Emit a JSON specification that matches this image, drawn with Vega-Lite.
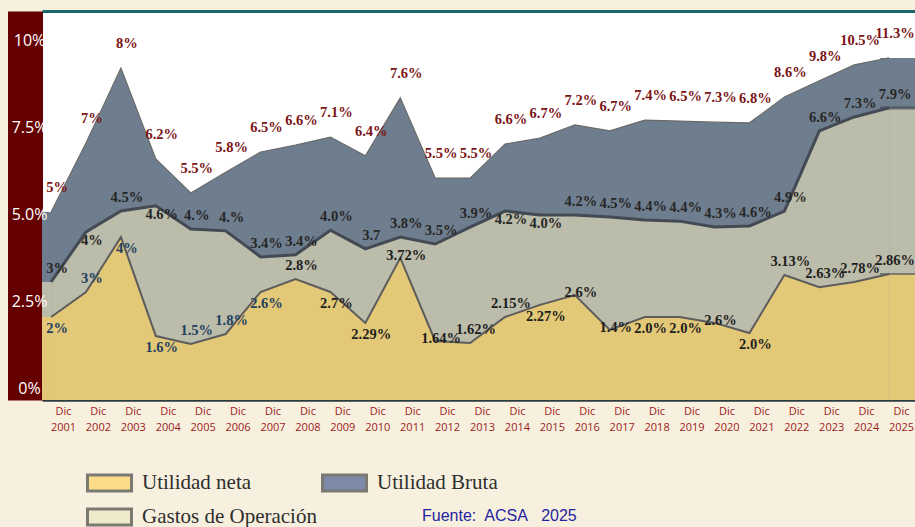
{
  "$schema": "https://vega.github.io/schema/vega-lite/v6.json",
  "width": 873,
  "height": 389,
  "autosize": {"type": "none"},
  "padding": {"left": 42, "top": 11, "right": 0, "bottom": 127},
  "background": "#f7f0de",
  "config": {"view": {"fill": "white", "stroke": null}},
  "title": {"text": "Fuente:\u00a0 ACSA\u00a0\u00a0 2025", "orient": "bottom", "anchor": "start", "frame": "group", "dx": 380, "offset": -20, "baseline": "top", "font": "Liberation Sans", "fontSize": 16, "fontWeight": "normal", "color": "#2424a0"},
  "datasets": {
    "d": [
      {"year": 2001, "serie": "Utilidad Bruta", "value": 5.41, "label": "5%"},
      {"year": 2002, "serie": "Utilidad Bruta", "value": 7.40, "label": "7%"},
      {"year": 2003, "serie": "Utilidad Bruta", "value": 9.56, "label": "8%"},
      {"year": 2004, "serie": "Utilidad Bruta", "value": 6.94, "label": "6.2%"},
      {"year": 2005, "serie": "Utilidad Bruta", "value": 5.96, "label": "5.5%"},
      {"year": 2006, "serie": "Utilidad Bruta", "value": 6.56, "label": "5.8%"},
      {"year": 2007, "serie": "Utilidad Bruta", "value": 7.14, "label": "6.5%"},
      {"year": 2008, "serie": "Utilidad Bruta", "value": 7.34, "label": "6.6%"},
      {"year": 2009, "serie": "Utilidad Bruta", "value": 7.57, "label": "7.1%"},
      {"year": 2010, "serie": "Utilidad Bruta", "value": 7.03, "label": "6.4%"},
      {"year": 2011, "serie": "Utilidad Bruta", "value": 8.70, "label": "7.6%"},
      {"year": 2012, "serie": "Utilidad Bruta", "value": 6.39, "label": "5.5%"},
      {"year": 2013, "serie": "Utilidad Bruta", "value": 6.39, "label": "5.5%"},
      {"year": 2014, "serie": "Utilidad Bruta", "value": 7.37, "label": "6.6%"},
      {"year": 2015, "serie": "Utilidad Bruta", "value": 7.54, "label": "6.7%"},
      {"year": 2016, "serie": "Utilidad Bruta", "value": 7.92, "label": "7.2%"},
      {"year": 2017, "serie": "Utilidad Bruta", "value": 7.75, "label": "6.7%"},
      {"year": 2018, "serie": "Utilidad Bruta", "value": 8.06, "label": "7.4%"},
      {"year": 2019, "serie": "Utilidad Bruta", "value": 8.03, "label": "6.5%"},
      {"year": 2020, "serie": "Utilidad Bruta", "value": 8.00, "label": "7.3%"},
      {"year": 2021, "serie": "Utilidad Bruta", "value": 7.98, "label": "6.8%"},
      {"year": 2022, "serie": "Utilidad Bruta", "value": 8.72, "label": "8.6%"},
      {"year": 2023, "serie": "Utilidad Bruta", "value": 9.19, "label": "9.8%"},
      {"year": 2024, "serie": "Utilidad Bruta", "value": 9.65, "label": "10.5%"},
      {"year": 2025, "serie": "Utilidad Bruta", "value": 9.85, "label": "11.3%"},
      {"year": 2001, "serie": "Gastos de Operación", "value": 3.40, "label": "3%"},
      {"year": 2002, "serie": "Gastos de Operación", "value": 4.84, "label": "4%"},
      {"year": 2003, "serie": "Gastos de Operación", "value": 5.44, "label": "4.5%"},
      {"year": 2004, "serie": "Gastos de Operación", "value": 5.59, "label": "4.6%"},
      {"year": 2005, "serie": "Gastos de Operación", "value": 4.92, "label": "4.%"},
      {"year": 2006, "serie": "Gastos de Operación", "value": 4.87, "label": "4.%"},
      {"year": 2007, "serie": "Gastos de Operación", "value": 4.12, "label": "3.4%"},
      {"year": 2008, "serie": "Gastos de Operación", "value": 4.18, "label": "3.4%"},
      {"year": 2009, "serie": "Gastos de Operación", "value": 4.89, "label": "4.0%"},
      {"year": 2010, "serie": "Gastos de Operación", "value": 4.35, "label": "3.7"},
      {"year": 2011, "serie": "Gastos de Operación", "value": 4.69, "label": "3.8%"},
      {"year": 2012, "serie": "Gastos de Operación", "value": 4.49, "label": "3.5%"},
      {"year": 2013, "serie": "Gastos de Operación", "value": 4.98, "label": "3.9%"},
      {"year": 2014, "serie": "Gastos de Operación", "value": 5.44, "label": "4.2%"},
      {"year": 2015, "serie": "Gastos de Operación", "value": 5.33, "label": "4.0%"},
      {"year": 2016, "serie": "Gastos de Operación", "value": 5.33, "label": "4.2%"},
      {"year": 2017, "serie": "Gastos de Operación", "value": 5.27, "label": "4.5%"},
      {"year": 2018, "serie": "Gastos de Operación", "value": 5.18, "label": "4.4%"},
      {"year": 2019, "serie": "Gastos de Operación", "value": 5.15, "label": "4.4%"},
      {"year": 2020, "serie": "Gastos de Operación", "value": 4.98, "label": "4.3%"},
      {"year": 2021, "serie": "Gastos de Operación", "value": 5.01, "label": "4.6%"},
      {"year": 2022, "serie": "Gastos de Operación", "value": 5.44, "label": "4.9%"},
      {"year": 2023, "serie": "Gastos de Operación", "value": 7.75, "label": "6.6%"},
      {"year": 2024, "serie": "Gastos de Operación", "value": 8.15, "label": "7.3%"},
      {"year": 2025, "serie": "Gastos de Operación", "value": 8.41, "label": "7.9%"},
      {"year": 2001, "serie": "Utilidad neta", "value": 2.39, "label": "2%"},
      {"year": 2002, "serie": "Utilidad neta", "value": 3.11, "label": "3%"},
      {"year": 2003, "serie": "Utilidad neta", "value": 4.69, "label": "4%"},
      {"year": 2004, "serie": "Utilidad neta", "value": 1.84, "label": "1.6%"},
      {"year": 2005, "serie": "Utilidad neta", "value": 1.61, "label": "1.5%"},
      {"year": 2006, "serie": "Utilidad neta", "value": 1.90, "label": "1.8%"},
      {"year": 2007, "serie": "Utilidad neta", "value": 3.11, "label": "2.6%"},
      {"year": 2008, "serie": "Utilidad neta", "value": 3.48, "label": "2.8%"},
      {"year": 2009, "serie": "Utilidad neta", "value": 3.11, "label": "2.7%"},
      {"year": 2010, "serie": "Utilidad neta", "value": 2.22, "label": "2.29%"},
      {"year": 2011, "serie": "Utilidad neta", "value": 4.09, "label": "3.72%"},
      {"year": 2012, "serie": "Utilidad neta", "value": 1.70, "label": "1.64%"},
      {"year": 2013, "serie": "Utilidad neta", "value": 1.64, "label": "1.62%"},
      {"year": 2014, "serie": "Utilidad neta", "value": 2.39, "label": "2.15%"},
      {"year": 2015, "serie": "Utilidad neta", "value": 2.74, "label": "2.27%"},
      {"year": 2016, "serie": "Utilidad neta", "value": 3.02, "label": "2.6%"},
      {"year": 2017, "serie": "Utilidad neta", "value": 2.02, "label": "1.4%"},
      {"year": 2018, "serie": "Utilidad neta", "value": 2.39, "label": "2.0%"},
      {"year": 2019, "serie": "Utilidad neta", "value": 2.39, "label": "2.0%"},
      {"year": 2020, "serie": "Utilidad neta", "value": 2.22, "label": "2.6%"},
      {"year": 2021, "serie": "Utilidad neta", "value": 1.93, "label": "2.0%"},
      {"year": 2022, "serie": "Utilidad neta", "value": 3.60, "label": "3.13%"},
      {"year": 2023, "serie": "Utilidad neta", "value": 3.25, "label": "2.63%"},
      {"year": 2024, "serie": "Utilidad neta", "value": 3.40, "label": "2.78%"},
      {"year": 2025, "serie": "Utilidad neta", "value": 3.63, "label": "2.86%"}
    ]
  },
  "data": {"name": "d"},
  "resolve": {"axis": {"x": "independent", "y": "independent"}},
  "layer": [
    {
      "transform": [{"filter": "datum.year == 2001 || datum.year == 2025"}],
      "mark": {"type": "bar"},
      "encoding": {
        "x": {"field": "year", "type": "ordinal", "scale": {"type": "band", "paddingInner": 0, "paddingOuter": 0},
          "axis": {"orient": "bottom", "title": null, "domain": true, "domainColor": "#2c3b3b", "domainWidth": 2.5, "ticks": false, "labelExpr": "['Dic', datum.label]", "labelFont": "Open Sans", "labelFontSize": 11, "labelColor": "#9e1b1b", "labelAngle": 0, "labelLineHeight": 16, "labelPadding": 5, "labelOffset": 4, "labelBaseline": "top", "grid": false}},
        "y": {"field": "value", "type": "quantitative", "stack": null, "scale": {"domain": [0, 11.2], "nice": false},
          "axis": {"orient": "left", "title": null, "values": [0, 2.5, 5, 7.5, 10], "labels": false, "offset": 17, "domain": true, "domainColor": "#650000", "domainWidth": 35, "ticks": false, "grid": false}},
        "color": {"condition": [{"test": "datum.serie == 'Utilidad Bruta'", "value": "#6f7e8e"}, {"test": "datum.serie == 'Gastos de Operación'", "value": "#bcbcaa"}], "value": "#e3c877"}
      }
    },
    {
      "mark": {"type": "point", "filled": true, "opacity": 0},
      "encoding": {
        "x": {"field": "year", "type": "ordinal", "scale": {"type": "band", "paddingInner": 0, "paddingOuter": 0}, "axis": null},
        "y": {"field": "value", "type": "quantitative", "axis": null},
        "color": {"field": "serie", "type": "nominal",
          "scale": {"domain": ["Utilidad neta", "Utilidad Bruta", "Gastos de Operación"], "range": ["#fcdc89", "#7d89a9", "#efe9cc"]},
          "legend": {"orient": "none", "legendX": 44, "legendY": 461, "direction": "horizontal", "title": null, "columns": 2, "columnPadding": 4, "rowPadding": 12, "symbolType": "M-1,-0.364H1V0.364H-1Z", "symbolSize": 1936, "clipHeight": 22, "labelFont": "Liberation Serif", "labelFontSize": 21, "labelLimit": 300, "labelColor": "#2e2e2e", "labelOffset": 9, "symbolStrokeWidth": 3, "symbolStrokeColor": "#7a7a72", "symbolOpacity": 1}}
      }
    },
    {
      "transform": [{"filter": "datum.serie == 'Utilidad Bruta'"}],
      "mark": {"type": "area", "color": "#6f7e8e"},
      "encoding": {
        "x": {"field": "year", "type": "ordinal", "bandPosition": 0.26, "scale": {"type": "band", "paddingInner": 0, "paddingOuter": 0},
          "axis": {"orient": "top", "title": null, "labels": false, "ticks": false, "domain": true, "domainColor": "#19686a", "domainWidth": 3, "grid": false}},
        "y": {"field": "value", "type": "quantitative", "stack": null, "axis": null}
      }
    },
    {
      "transform": [{"filter": "datum.serie == 'Utilidad Bruta'"}],
      "mark": {"type": "line", "stroke": "#6b6b6b", "strokeWidth": 1.2},
      "encoding": {
        "x": {"field": "year", "type": "ordinal", "bandPosition": 0.26, "scale": {"type": "band", "paddingInner": 0, "paddingOuter": 0}, "axis": null},
        "y": {"field": "value", "type": "quantitative",
          "axis": {"orient": "left", "title": null, "values": [0, 2.5, 5, 7.5, 10], "labelExpr": "datum.value == 0 ? '0%' : datum.value == 10 ? '10%' : format(datum.value, '.1f') + '%'", "offset": 17, "domain": false, "ticks": false, "tickSize": 0, "labelPadding": -4, "labelAlign": "center", "labelBaseline": "middle", "labelOffset": -12, "labelColor": "white", "labelFont": "Open Sans", "labelFontSize": 16, "grid": false, "zindex": 1}}
      }
    },
    {
      "transform": [{"filter": "datum.serie == 'Gastos de Operación'"}],
      "mark": {"type": "area", "color": "#bcbcaa"},
      "encoding": {
        "x": {"field": "year", "type": "ordinal", "bandPosition": 0.26, "scale": {"type": "band", "paddingInner": 0, "paddingOuter": 0}, "axis": null},
        "y": {"field": "value", "type": "quantitative", "stack": null, "axis": null}
      }
    },
    {
      "transform": [{"filter": "datum.serie == 'Gastos de Operación'"}],
      "mark": {"type": "line", "stroke": "#434a54", "strokeWidth": 3},
      "encoding": {
        "x": {"field": "year", "type": "ordinal", "bandPosition": 0.26, "scale": {"type": "band", "paddingInner": 0, "paddingOuter": 0}, "axis": null},
        "y": {"field": "value", "type": "quantitative", "axis": null}
      }
    },
    {
      "transform": [{"filter": "datum.serie == 'Utilidad neta'"}],
      "mark": {"type": "area", "color": "#e3c877"},
      "encoding": {
        "x": {"field": "year", "type": "ordinal", "bandPosition": 0.26, "scale": {"type": "band", "paddingInner": 0, "paddingOuter": 0}, "axis": null},
        "y": {"field": "value", "type": "quantitative", "stack": null, "axis": null}
      }
    },
    {
      "transform": [{"filter": "datum.serie == 'Utilidad neta'"}],
      "mark": {"type": "line", "stroke": "#5c5c5c", "strokeWidth": 2},
      "encoding": {
        "x": {"field": "year", "type": "ordinal", "bandPosition": 0.26, "scale": {"type": "band", "paddingInner": 0, "paddingOuter": 0}, "axis": null},
        "y": {"field": "value", "type": "quantitative", "axis": null}
      }
    },
    {
      "transform": [{"filter": "datum.year == 2025 && datum.serie == 'Gastos de Operación'"}],
      "mark": {"type": "tick", "orient": "horizontal", "size": 35, "thickness": 3, "color": "#434a54"},
      "encoding": {
        "x": {"field": "year", "type": "ordinal", "scale": {"type": "band", "paddingInner": 0, "paddingOuter": 0}, "axis": null},
        "y": {"field": "value", "type": "quantitative", "axis": null}
      }
    },
    {
      "transform": [{"filter": "datum.year == 2025 && datum.serie == 'Utilidad neta'"}],
      "mark": {"type": "tick", "orient": "horizontal", "size": 35, "thickness": 2, "color": "#5c5c5c"},
      "encoding": {
        "x": {"field": "year", "type": "ordinal", "scale": {"type": "band", "paddingInner": 0, "paddingOuter": 0}, "axis": null},
        "y": {"field": "value", "type": "quantitative", "axis": null}
      }
    },
    {
      "transform": [{"filter": "datum.serie == 'Utilidad Bruta'"}],
      "mark": {"type": "text", "font": "Liberation Serif", "fontWeight": "bold", "fontSize": 14.5, "dy": -24, "color": "#7b1416"},
      "encoding": {
        "x": {"field": "year", "type": "ordinal", "bandPosition": 0.43, "scale": {"type": "band", "paddingInner": 0, "paddingOuter": 0}, "axis": null},
        "y": {"field": "value", "type": "quantitative", "axis": null},
        "text": {"field": "label"}
      }
    },
    {
      "transform": [{"filter": "datum.serie == 'Gastos de Operación' && indexof([2002, 2004, 2014, 2015], datum.year) < 0"}],
      "mark": {"type": "text", "font": "Liberation Serif", "fontWeight": "bold", "fontSize": 14.5, "dy": -13, "color": "#262626"},
      "encoding": {
        "x": {"field": "year", "type": "ordinal", "bandPosition": 0.43, "scale": {"type": "band", "paddingInner": 0, "paddingOuter": 0}, "axis": null},
        "y": {"field": "value", "type": "quantitative", "axis": null},
        "text": {"field": "label"}
      }
    },
    {
      "transform": [{"filter": "datum.serie == 'Gastos de Operación' && indexof([2002, 2004, 2014, 2015], datum.year) >= 0"}],
      "mark": {"type": "text", "font": "Liberation Serif", "fontWeight": "bold", "fontSize": 14.5, "dy": 9, "color": "#262626"},
      "encoding": {
        "x": {"field": "year", "type": "ordinal", "bandPosition": 0.43, "scale": {"type": "band", "paddingInner": 0, "paddingOuter": 0}, "axis": null},
        "y": {"field": "value", "type": "quantitative", "axis": null},
        "text": {"field": "label"}
      }
    },
    {
      "transform": [{"filter": "datum.serie == 'Utilidad neta' && indexof([2002, 2005, 2006, 2008, 2013, 2014, 2022, 2023, 2024, 2025], datum.year) >= 0"}],
      "mark": {"type": "text", "font": "Liberation Serif", "fontWeight": "bold", "fontSize": 14.5, "dy": -13},
      "encoding": {
        "x": {"field": "year", "type": "ordinal", "bandPosition": 0.43, "scale": {"type": "band", "paddingInner": 0, "paddingOuter": 0}, "axis": null},
        "y": {"field": "value", "type": "quantitative", "axis": null},
        "text": {"field": "label"},
        "color": {"condition": {"test": "datum.year <= 2007", "value": "#23405f"}, "value": "#1e1e1e"}
      }
    },
    {
      "transform": [{"filter": "datum.serie == 'Utilidad neta' && indexof([2001, 2003, 2004, 2007, 2009, 2010, 2015, 2018, 2019, 2021], datum.year) >= 0"}],
      "mark": {"type": "text", "font": "Liberation Serif", "fontWeight": "bold", "fontSize": 14.5, "dy": 12},
      "encoding": {
        "x": {"field": "year", "type": "ordinal", "bandPosition": 0.43, "scale": {"type": "band", "paddingInner": 0, "paddingOuter": 0}, "axis": null},
        "y": {"field": "value", "type": "quantitative", "axis": null},
        "text": {"field": "label"},
        "color": {"condition": {"test": "datum.year <= 2007", "value": "#23405f"}, "value": "#1e1e1e"}
      }
    },
    {
      "transform": [{"filter": "datum.serie == 'Utilidad neta' && indexof([2011, 2012, 2016, 2017, 2020], datum.year) >= 0"}],
      "mark": {"type": "text", "font": "Liberation Serif", "fontWeight": "bold", "fontSize": 14.5, "dy": -2},
      "encoding": {
        "x": {"field": "year", "type": "ordinal", "bandPosition": 0.43, "scale": {"type": "band", "paddingInner": 0, "paddingOuter": 0}, "axis": null},
        "y": {"field": "value", "type": "quantitative", "axis": null},
        "text": {"field": "label"},
        "color": {"value": "#1e1e1e"}
      }
    }
  ]
}
